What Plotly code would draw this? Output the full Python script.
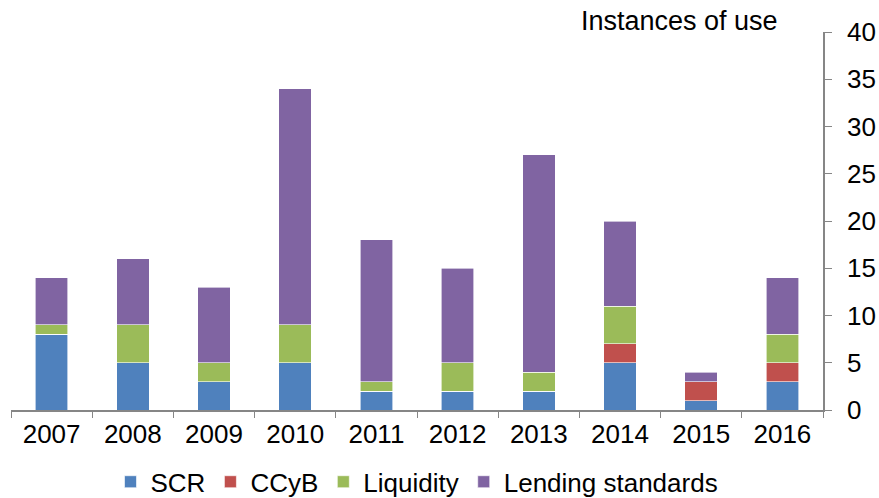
import plotly.graph_objects as go

# data
years = ["2007", "2008", "2009", "2010", "2011", "2012", "2013", "2014", "2015", "2016"]
scr = [8, 5, 3, 5, 2, 2, 2, 5, 1, 3]
ccyb = [0, 0, 0, 0, 0, 0, 0, 2, 2, 2]
liquidity = [1, 4, 2, 4, 1, 3, 2, 4, 0, 3]
lending = [5, 7, 8, 25, 15, 10, 23, 9, 1, 6]
y_ticks = [0, 5, 10, 15, 20, 25, 30, 35, 40]

series = [
    ("SCR", scr, "#4F81BD"),
    ("CCyB", ccyb, "#C0504D"),
    ("Liquidity", liquidity, "#9BBB59"),
    ("Lending standards", lending, "#8064A2"),
]

fig = go.Figure()
for name, vals, colour in series:
    fig.add_trace(go.Bar(x=years, y=vals, name=name,
                         marker=dict(color=colour, line=dict(color="white", width=0.6))))

font = dict(family="Liberation Sans, Arial, sans-serif", size=26, color="black")

fig.update_layout(
    barmode="stack",
    bargap=0.6,
    width=879, height=498,
    margin=dict(l=11, r=56, t=32, b=88, autoexpand=False),
    paper_bgcolor="white", plot_bgcolor="white",
    font=font,
    showlegend=True,
    legend=dict(orientation="h", x=0.5, xanchor="center", y=-0.19, yanchor="middle",
                font=font, itemwidth=30, traceorder="normal"),
)

fig.update_xaxes(type="category", showline=True, linecolor="#868686", linewidth=1.5,
                 ticks="outside", tickson="boundaries", ticklen=6, tickcolor="#868686",
                 showgrid=False, tickfont=font)

fig.update_yaxes(side="right", range=[0, 40], tickvals=y_ticks, showline=True,
                 linecolor="#868686", linewidth=1.5, ticks="outside", ticklen=7,
                 tickcolor="#868686", showgrid=False, zeroline=False, tickfont=font,
                 ticklabelstandoff=10)

fig.add_annotation(text="Instances of use", xref="paper", yref="paper", x=0.947, y=1.030,
                   xanchor="right", yanchor="middle", showarrow=False,
                   font=dict(family=font["family"], size=27, color="black"))

# drop the default 8px body margin so the figure fills the window
fig.write_html("out.html", config={"displayModeBar": False},
               post_script="document.body.style.margin='0';document.body.style.overflow='hidden';")
